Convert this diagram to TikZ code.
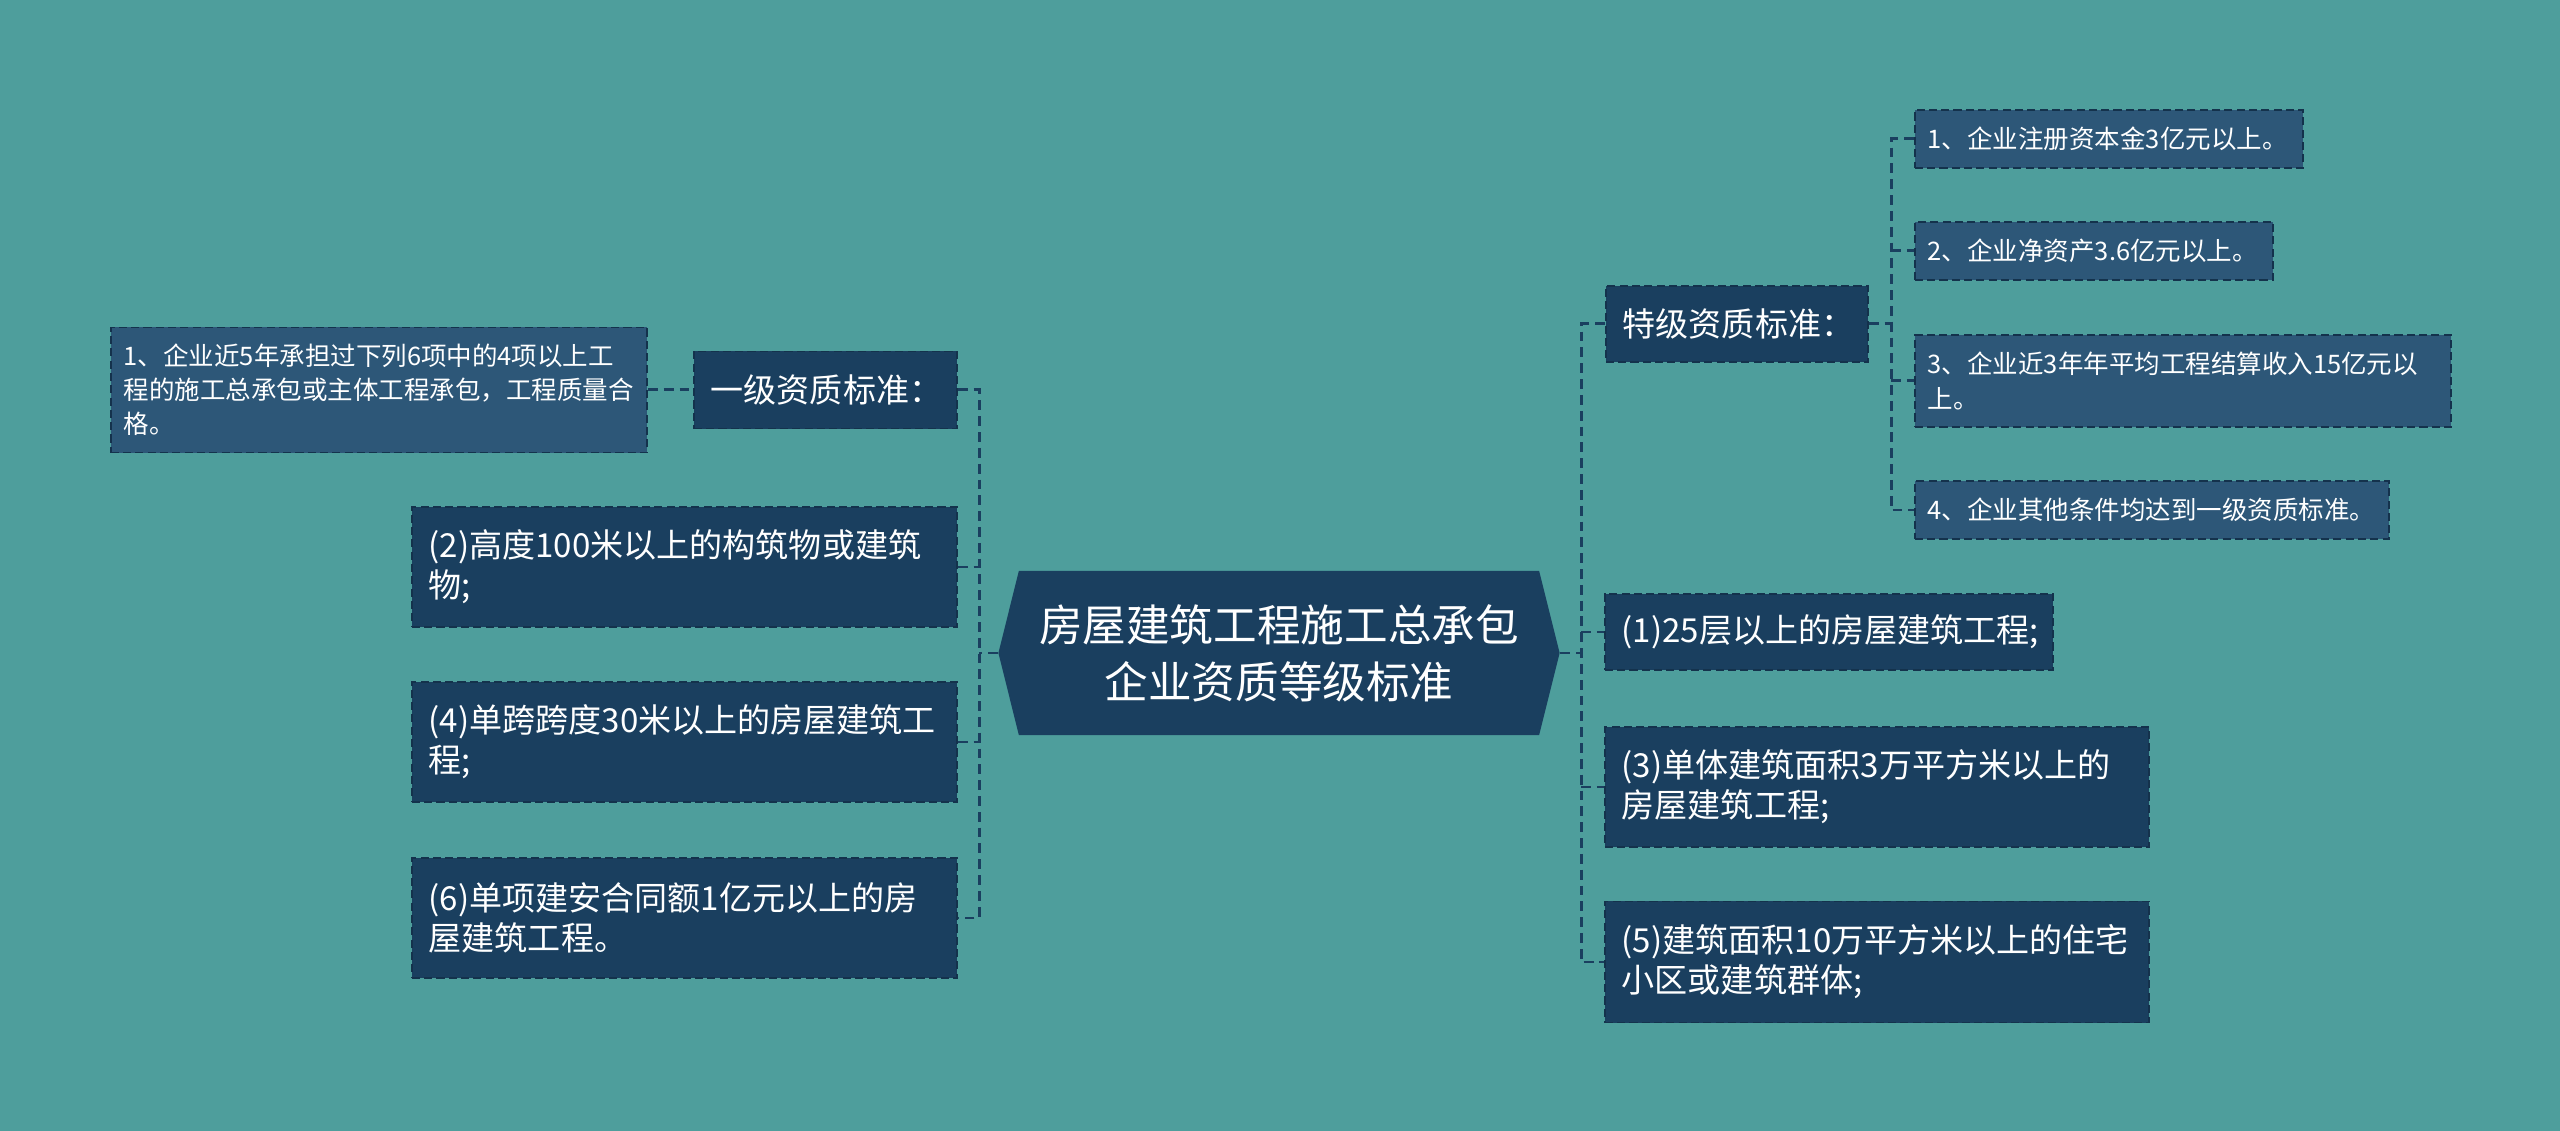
\documentclass[tikz,border=0pt]{standalone}
\usepackage{fontspec}
\setmainfont{Noto Sans CJK SC}
\usepackage{tikz}
\usetikzlibrary{shapes.symbols}
\usepackage{xcolor}
\definecolor{bgteal}{RGB}{78,158,156}
\definecolor{deepnavy}{RGB}{26,63,95}
\definecolor{subnavy}{RGB}{45,87,120}
\definecolor{edgenavy}{RGB}{20,50,76}

\tikzset{
  box/.style={anchor=west, align=left, text=white, inner ysep=0pt,
    draw=edgenavy, line width=0.45pt, dash pattern=on 2.3pt off 1.2pt},
  mainbox/.style={box, fill=deepnavy, inner xsep=0.17cm,
    font=\fontsize{9.4}{11.4}\selectfont},
  subbox/.style={box, fill=subnavy, inner xsep=0.13cm,
    font=\fontsize{7.25}{9.7}\selectfont},
  titlebox/.style={shape=signal, signal to=east and west,
    signal pointer angle=152, fill=deepnavy, text=white, align=center,
    minimum height=1.64cm, text width=5.0cm, inner xsep=0.1cm,
    font=\fontsize{12.4}{16.2}\selectfont},
  link/.style={draw=deepnavy, line width=0.85pt,
    dash pattern=on 2.8pt off 1.7pt}
}

\begin{document}
\begin{tikzpicture}[x=0.01cm, y=-0.01cm]
  % background
  \fill[bgteal] (0,0) rectangle (2560,1131);

  % centre
  \node[titlebox] (title) at (1279,653) {房屋建筑工程施工总承包\\企业资质等级标准};

  % left branch
  \node[subbox, text width=5.10cm, minimum height=1.25cm] (lsub) at (110,390)
    {1、企业近5年承担过下列6项中的4项以上工\\程的施工总承包或主体工程承包，工程质量合\\格。};
  \node[mainbox, text width=2.29cm, minimum height=0.77cm] (yiji) at (693,390) {一级资质标准：};
  \node[mainbox, text width=5.11cm, minimum height=1.20cm] (l2) at (411,567)
    {(2)高度100米以上的构筑物或建筑\\物;};
  \node[mainbox, text width=5.11cm, minimum height=1.20cm] (l4) at (411,742)
    {(4)单跨跨度30米以上的房屋建筑工\\程;};
  \node[mainbox, text width=5.11cm, minimum height=1.20cm] (l6) at (411,918)
    {(6)单项建安合同额1亿元以上的房\\屋建筑工程。};

  % right branch
  \node[mainbox, text width=2.28cm, minimum height=0.76cm] (teji) at (1605,324) {特级资质标准：};
  \node[mainbox, text width=4.14cm, minimum height=0.76cm] (r1) at (1604,632)
    {(1)25层以上的房屋建筑工程;};
  \node[mainbox, text width=5.10cm, minimum height=1.20cm] (r3) at (1604,787)
    {(3)单体建筑面积3万平方米以上的\\房屋建筑工程;};
  \node[mainbox, text width=5.10cm, minimum height=1.21cm] (r5) at (1604,962)
    {(5)建筑面积10万平方米以上的住宅\\小区或建筑群体;};

  % special grade items
  \node[subbox, text width=3.62cm, minimum height=0.58cm] (t1) at (1914,139) {1、企业注册资本金3亿元以上。};
  \node[subbox, text width=3.32cm, minimum height=0.58cm] (t2) at (1914,251) {2、企业净资产3.6亿元以上。};
  \node[subbox, text width=5.10cm, minimum height=0.92cm] (t3) at (1914,381)
    {3、企业近3年年平均工程结算收入15亿元以\\上。};
  \node[subbox, text width=4.48cm, minimum height=0.58cm] (t4) at (1914,510) {4、企业其他条件均达到一级资质标准。};

  % connectors, left
  \coordinate (lspine) at (979,653);
  \draw[link] (title.west) -- (lspine);
  \draw[link] (yiji.east) -- (yiji.east -| lspine) -- (l6.east -| lspine) -- (l6.east);
  \foreach \n in {l2,l4}
    \draw[link] (\n.east) -- (\n.east -| lspine);
  \draw[link] (lsub.east) -- (yiji.west);

  % connectors, right
  \coordinate (rspine) at (1581,653);
  \draw[link] (title.east) -- (rspine);
  \draw[link] (teji.west) -- (teji.west -| rspine) -- (r5.west -| rspine) -- (r5.west);
  \foreach \n in {r1,r3}
    \draw[link] (\n.west -| rspine) -- (\n.west);

  \coordinate (tspine) at (1891,324);
  \draw[link] (teji.east) -- (tspine);
  \draw[link] (t1.west) -- (t1.west -| tspine) -- (t4.west -| tspine) -- (t4.west);
  \foreach \n in {t2,t3}
    \draw[link] (\n.west -| tspine) -- (\n.west);
\end{tikzpicture}
\end{document}
